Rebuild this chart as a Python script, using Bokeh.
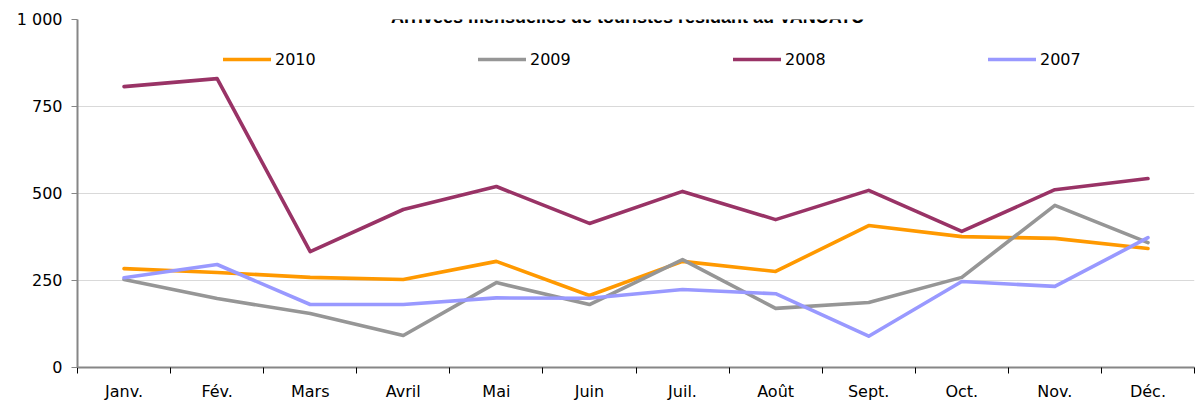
from bokeh.plotting import figure
from bokeh.models import Range1d, FixedTicker, Legend, LegendItem, Label
from bokeh.embed import file_html
from bokeh.resources import INLINE

months = ["Janv.", "Fév.", "Mars", "Avril", "Mai", "Juin", "Juil.", "Août", "Sept.", "Oct.", "Nov.", "Déc."]
years = ["2010", "2009", "2008", "2007"]
v2010 = [284, 273, 259, 253, 305, 207, 305, 276, 408, 376, 371, 342]
v2009 = [253, 198, 155, 92, 244, 181, 310, 170, 187, 259, 466, 359]
v2008 = [807, 830, 333, 454, 520, 414, 506, 425, 509, 391, 511, 543]
v2007 = [258, 296, 181, 181, 200, 199, 224, 212, 90, 247, 233, 373]
y_ticks = [0, 250, 500, 750, 1000]
y_tick_labels = ["0", "250", "500", "750", "1 000"]
title_text = "Arrivées mensuelles de touristes résidant au VANUATU"

series = [v2010, v2009, v2008, v2007]
colors = ["#FF9900", "#969696", "#993366", "#9999FF"]

FONT = "DejaVu Sans"

p = figure(width=1195, height=403, output_backend="svg", toolbar_location=None,
           x_range=Range1d(0, len(months)), y_range=Range1d(0, 1000),
           min_border_left=77, min_border_right=1, min_border_top=19, min_border_bottom=36)
p.outline_line_color = None
p.background_fill_color = "white"
p.border_fill_color = "white"

xs = [i + 0.5 for i in range(len(months))]

items = []
for yr, vals, col in zip(years, series, colors):
    r = p.line(xs, vals, line_color=col, line_width=3.6, line_join="round", line_cap="round")
    items.append(LegendItem(label=yr, renderers=[r]))

legend = Legend(items=items, orientation="horizontal", location=(146, 298),
                padding=0, margin=0, spacing=143, glyph_width=48, glyph_height=20,
                label_standoff=4, label_width=60, label_height=20,
                label_text_font=FONT, label_text_font_size="16px", label_text_color="black",
                border_line_color=None, background_fill_alpha=0)
p.add_layout(legend, "center")

# x axis
xa = p.xaxis[0]
xa.ticker = FixedTicker(ticks=xs, minor_ticks=list(range(len(months) + 1)))
xa.major_label_overrides = {x: m for x, m in zip(xs, months)}
xa.major_tick_out = 0
xa.major_tick_in = 0
xa.minor_tick_out = 6
xa.minor_tick_in = 0
xa.minor_tick_line_color = "black"
xa.axis_line_color = "#868686"
xa.axis_line_width = 2
xa.major_label_standoff = 8
xa.major_label_text_font = FONT
xa.major_label_text_font_size = "16px"
xa.major_label_text_color = "black"

# y axis
ya = p.yaxis[0]
ya.ticker = FixedTicker(ticks=y_ticks)
ya.major_label_overrides = {t: l for t, l in zip(y_ticks, y_tick_labels)}
ya.major_tick_out = 6
ya.major_tick_in = 0
ya.minor_tick_line_color = None
ya.major_tick_line_color = "#868686"
ya.axis_line_color = "#868686"
ya.axis_line_width = 2
ya.major_label_standoff = 9
ya.major_label_text_font = FONT
ya.major_label_text_font_size = "16px"
ya.major_label_text_color = "black"

p.xgrid.visible = False
p.ygrid.grid_line_color = "#D9D9D9"
p.ygrid.grid_line_width = 1

title = Label(x=5.91, y=1008, text=title_text, text_align="center", text_baseline="alphabetic",
              text_font="Liberation Sans", text_font_style="bold", text_font_size="18px",
              text_color="black")
p.add_layout(title)

open("out.html", "w").write(file_html(p, INLINE))
